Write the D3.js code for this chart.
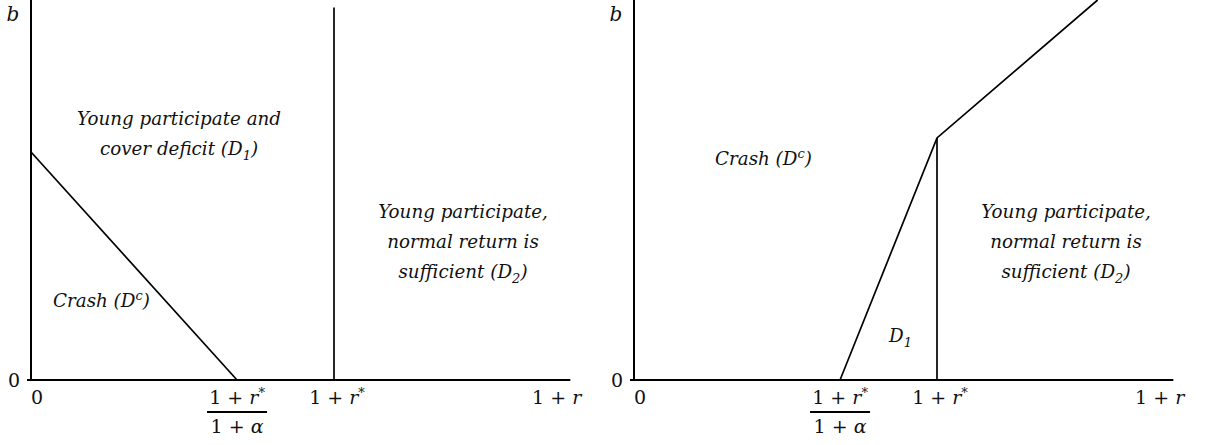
<!DOCTYPE html>
<html>
<head>
<meta charset="utf-8">
<script src="https://cdn.jsdelivr.net/npm/d3@7"></script>
<style>
  body { margin: 0; background: #fff; }
  text { font-family: "DejaVu Serif", serif; fill: #111; }
  .lab { font-style: italic; font-size: 18.3px; }
  .tick { font-size: 19px; }
</style>
</head>
<body>
<div id="chart"></div>
<script>
// x in units of 1+r* , y in units of b (top of axis = 1)
var xTicks = [0, 0.68, 1, 1.735];
var xTickNames = ["0", "frac", "rstar", "r"];
var xAxisEnd = 1.78;

var leftBoundary = [[0, 0.6], [0.68, 0]];
var leftVertical = [[1, 0], [1, 0.98]];
var rightBoundary = [[0.68, 0], [1, 0.637], [1.53, 1]];
var rightVertical = [[1, 0], [1, 0.637]];

var svgWidth = 1206, svgHeight = 445;

var svg = d3.select("#chart").append("svg")
  .attr("width", svgWidth)
  .attr("height", svgHeight);

function drawPanel(left, boundary, vertical, labels) {
  var g = svg.append("g").attr("transform", `translate(${left}, 0)`);

  var x = d3.scaleLinear().domain([0, 1]).range([0, 303]);
  var y = d3.scaleLinear().domain([0, 1]).range([380, 0]);

  var line = d3.line().x(d => x(d[0])).y(d => y(d[1]));

  // axes
  g.append("line").attr("x1", x(0)).attr("x2", x(0)).attr("y1", y(0)).attr("y2", y(1))
    .attr("stroke", "#000").attr("stroke-width", 2);
  g.append("line").attr("x1", x(0) - 4).attr("x2", x(xAxisEnd)).attr("y1", y(0)).attr("y2", y(0))
    .attr("stroke", "#000").attr("stroke-width", 2);

  g.append("path").attr("d", line(boundary)).attr("fill", "none")
    .attr("stroke", "#000").attr("stroke-width", 1.7);
  g.append("path").attr("d", line(vertical)).attr("fill", "none")
    .attr("stroke", "#000").attr("stroke-width", 1.7);

  // axis names
  g.append("text").attr("class", "lab").attr("x", -18).attr("y", 21)
    .attr("text-anchor", "middle").style("font-size", "20px").text("b");
  g.append("text").attr("class", "tick").attr("x", -17).attr("y", 387)
    .attr("text-anchor", "middle").text("0");

  // x tick labels
  xTicks.forEach(function(v, i) {
    var name = xTickNames[i];
    var tx = x(v);
    if (name === "0") {
      g.append("text").attr("class", "tick").attr("x", tx + 6).attr("y", 404)
        .attr("text-anchor", "middle").text("0");
    } else if (name === "frac") {
      var t1 = g.append("text").attr("class", "tick").attr("x", tx).attr("y", 404)
        .attr("text-anchor", "middle");
      t1.append("tspan").text("1 + ");
      t1.append("tspan").attr("font-style", "italic").text("r");
      t1.append("tspan").attr("dy", -7).attr("font-size", 13).text("*");
      g.append("line").attr("x1", tx - 30).attr("x2", tx + 30).attr("y1", 412).attr("y2", 412)
        .attr("stroke", "#000").attr("stroke-width", 2);
      var t2 = g.append("text").attr("class", "tick").attr("x", tx).attr("y", 433)
        .attr("text-anchor", "middle");
      t2.append("tspan").text("1 + ");
      t2.append("tspan").attr("font-style", "italic").text("α");
    } else if (name === "rstar") {
      var t3 = g.append("text").attr("class", "tick").attr("x", tx + 3).attr("y", 404)
        .attr("text-anchor", "middle");
      t3.append("tspan").text("1 + ");
      t3.append("tspan").attr("font-style", "italic").text("r");
      t3.append("tspan").attr("dy", -7).attr("font-size", 13).text("*");
    } else {
      var t4 = g.append("text").attr("class", "tick").attr("x", tx).attr("y", 404)
        .attr("text-anchor", "middle");
      t4.append("tspan").text("1 + ");
      t4.append("tspan").attr("font-style", "italic").text("r");
    }
  });

  // region labels
  labels.forEach(function(l) {
    var t = g.append("text").attr("class", "lab").attr("x", l.x).attr("y", l.y)
      .attr("text-anchor", l.anchor || "middle");
    l.parts.forEach(function(p) {
      var s = t.append("tspan").text(p.t);
      if (p.sub) s.attr("font-size", 13).attr("dy", 5);
      if (p.sup) s.attr("font-size", 13).attr("dy", -7);
      if (p.back) s.attr("dy", p.back);
    });
  });
}

drawPanel(31, leftBoundary, leftVertical, [
  {x: 148, y: 125, parts: [{t: "Young participate and"}]},
  {x: 148, y: 155, parts: [{t: "cover deficit ("}, {t: "D"}, {t: "1", sub: true}, {t: ")", back: -5}]},
  {x: 432, y: 218, parts: [{t: "Young participate,"}]},
  {x: 432, y: 248, parts: [{t: "normal return is"}]},
  {x: 432, y: 278, parts: [{t: "sufficient ("}, {t: "D"}, {t: "2", sub: true}, {t: ")", back: -5}]},
  {x: 22, y: 307, anchor: "start", parts: [{t: "Crash ("}, {t: "D"}, {t: "c", sup: true}, {t: ")", back: 7}]}
]);

drawPanel(634, rightBoundary, rightVertical, [
  {x: 432, y: 218, parts: [{t: "Young participate,"}]},
  {x: 432, y: 248, parts: [{t: "normal return is"}]},
  {x: 432, y: 278, parts: [{t: "sufficient ("}, {t: "D"}, {t: "2", sub: true}, {t: ")", back: -5}]},
  {x: 81, y: 165, anchor: "start", parts: [{t: "Crash ("}, {t: "D"}, {t: "c", sup: true}, {t: ")", back: 7}]},
  {x: 255, y: 342, anchor: "start", parts: [{t: "D"}, {t: "1", sub: true}]}
]);
</script>
</body>
</html>
